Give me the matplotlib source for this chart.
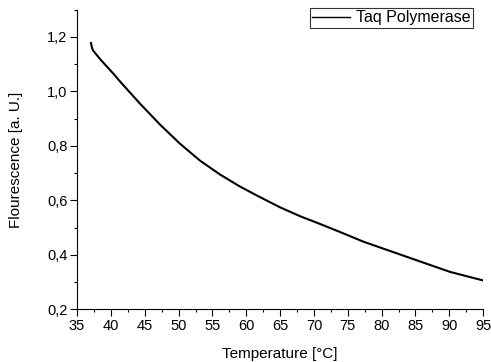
import numpy as np
import matplotlib
matplotlib.use("Agg")
import matplotlib.pyplot as plt
from matplotlib.ticker import MultipleLocator, FuncFormatter

plt.rcParams['font.family'] = ['Liberation Sans', 'DejaVu Sans']

# values
temp = [37.05, 37.2, 37.4, 38.5, 40.4, 41.4, 44.3, 47.3, 50.2, 53.2, 56.1,
        59.1, 62.0, 65.0, 68.0, 70.9, 74.0, 77.3, 82.25, 87.2, 90.1, 94.9]
fluor = [1.178, 1.160, 1.149, 1.116, 1.064, 1.035, 0.955, 0.877, 0.808, 0.745, 0.695,
         0.650, 0.612, 0.574, 0.541, 0.513, 0.482, 0.448, 0.405, 0.362, 0.337, 0.306]
label = "Taq Polymerase"

fig = plt.figure(figsize=(4.91, 3.62), dpi=100)
ax = fig.add_axes([0.157, 0.146, 0.827, 0.827])

ax.plot(temp, fluor, color="black", lw=1.5, label=label, solid_joinstyle="round")

ax.set_xlim(35, 95)
ax.set_ylim(0.2, 1.3)
ax.xaxis.set_major_locator(MultipleLocator(5))
ax.xaxis.set_minor_locator(MultipleLocator(2.5))
ax.yaxis.set_minor_locator(MultipleLocator(0.1))
ax.set_yticks([0.2, 0.4, 0.6, 0.8, 1.0, 1.2])
ax.yaxis.set_major_formatter(FuncFormatter(lambda v, p: f"{v:.1f}".replace(".", ",")))

for s in ("top", "right"):
    ax.spines[s].set_visible(False)
for s in ("left", "bottom"):
    ax.spines[s].set_linewidth(0.8)

ax.tick_params(which="major", direction="out", length=5, width=0.8, labelsize=10.5, pad=2)
ax.tick_params(which="minor", direction="out", length=2.5, width=0.8)

ax.set_xlabel("Temperature [°C]", fontsize=11, labelpad=10)
ax.set_ylabel("Flourescence [a. U.]", fontsize=11, labelpad=17)

leg = ax.legend(loc="upper right", bbox_to_anchor=(473 / 491, 1 - 8 / 362),
                bbox_transform=fig.transFigure, fontsize=11.5, frameon=True,
                fancybox=False, edgecolor="black", handlelength=2.4,
                borderpad=0.15, handletextpad=0.35, borderaxespad=0)
leg.get_frame().set_linewidth(0.8)
for h in leg.get_lines():
    h.set_linewidth(1.0)

fig.savefig("out.png", dpi=100)
